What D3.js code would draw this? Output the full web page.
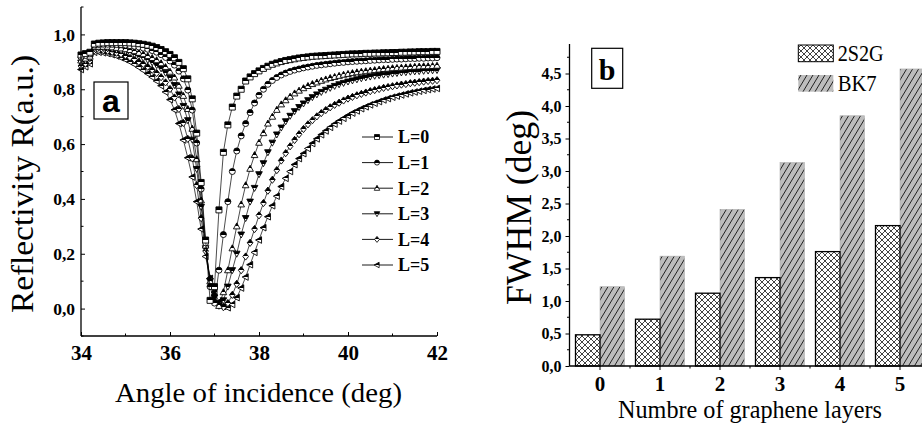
<!DOCTYPE html>
<html><head><meta charset="utf-8">
<script src="https://cdn.jsdelivr.net/npm/d3@7"></script>
<style>body{margin:0;background:#fff}svg{display:block}</style>
</head><body>
<svg id="c" width="922" height="427"></svg>
<script>
// ---------- Panel (a) data ----------
const angles = [34.0,34.1,34.2,34.3,34.4,34.5,34.6,34.7,34.8,34.9,
 35.0,35.1,35.2,35.3,35.4,35.5,35.6,35.7,35.8,35.9,
 36.0,36.1,36.2,36.3,36.4,36.5,36.6,36.7,36.8,36.9,
 37.0,37.1,37.2,37.3,37.4,37.5,37.6,37.7,37.8,37.9,
 38.0,38.1,38.2,38.3,38.4,38.5,38.6,38.7,38.8,38.9,
 39.0,39.1,39.2,39.3,39.4,39.5,39.6,39.7,39.8,39.9,
 40.0,40.1,40.2,40.3,40.4,40.5,40.6,40.7,40.8,40.9,
 41.0,41.1,41.2,41.3,41.4,41.5,41.6,41.7,41.8,41.9,
 42.0];
const L0 = [0.925,0.93,0.935,0.965,0.968,0.969,0.97,0.97,0.97,0.97,
 0.97,0.969,0.968,0.966,0.964,0.961,0.957,0.952,0.945,0.937,
 0.927,0.915,0.898,0.875,0.838,0.765,0.64,0.46,0.25,0.03,
 0.08,0.36,0.57,0.67,0.735,0.775,0.80,0.83,0.845,0.857,
 0.867,0.876,0.884,0.891,0.896,0.901,0.905,0.908,0.911,0.914,
 0.916,0.918,0.92,0.921,0.922,0.923,0.924,0.925,0.926,0.927,
 0.928,0.929,0.929,0.93,0.931,0.931,0.932,0.932,0.933,0.933,
 0.934,0.934,0.935,0.935,0.936,0.936,0.937,0.937,0.937,0.938,
 0.938];
const L1 = [0.917,0.923,0.929,0.961,0.963,0.964,0.964,0.964,0.963,0.962,
 0.961,0.959,0.957,0.954,0.95,0.946,0.941,0.935,0.926,0.916,
 0.903,0.888,0.866,0.838,0.797,0.724,0.604,0.436,0.24,0.08,
 0.02,0.14,0.27,0.39,0.50,0.575,0.63,0.675,0.715,0.75,
 0.778,0.80,0.818,0.832,0.843,0.852,0.859,0.865,0.87,0.874,
 0.878,0.881,0.884,0.887,0.889,0.891,0.893,0.895,0.897,0.898,
 0.90,0.901,0.902,0.903,0.904,0.905,0.906,0.907,0.908,0.908,
 0.909,0.91,0.91,0.911,0.912,0.912,0.913,0.913,0.914,0.914,
 0.915];
const L2 = [0.905,0.912,0.919,0.954,0.955,0.955,0.955,0.953,0.951,0.949,
 0.946,0.943,0.939,0.933,0.928,0.921,0.914,0.906,0.895,0.881,
 0.864,0.843,0.813,0.776,0.728,0.656,0.545,0.395,0.23,0.10,
 0.03,0.01,0.06,0.14,0.22,0.30,0.38,0.45,0.51,0.56,
 0.605,0.64,0.675,0.70,0.725,0.745,0.76,0.773,0.785,0.795,
 0.804,0.812,0.819,0.825,0.831,0.836,0.841,0.845,0.849,0.853,
 0.856,0.859,0.862,0.864,0.866,0.868,0.87,0.872,0.874,0.875,
 0.877,0.878,0.879,0.88,0.881,0.882,0.883,0.884,0.884,0.885,
 0.886];
const L3 = [0.897,0.905,0.913,0.949,0.951,0.95,0.949,0.947,0.944,0.941,
 0.938,0.933,0.928,0.921,0.914,0.907,0.898,0.888,0.876,0.86,
 0.841,0.815,0.781,0.739,0.687,0.616,0.509,0.371,0.22,0.10,
 0.04,0.01,0.03,0.08,0.14,0.20,0.27,0.33,0.39,0.44,
 0.49,0.53,0.57,0.605,0.635,0.66,0.683,0.703,0.72,0.735,
 0.748,0.76,0.771,0.781,0.79,0.798,0.805,0.812,0.818,0.823,
 0.828,0.832,0.836,0.84,0.843,0.846,0.849,0.851,0.853,0.855,
 0.857,0.859,0.861,0.862,0.864,0.865,0.866,0.867,0.868,0.869,
 0.87];
const L4 = [0.885,0.893,0.903,0.942,0.943,0.942,0.94,0.936,0.933,0.928,
 0.923,0.916,0.909,0.90,0.892,0.882,0.871,0.859,0.844,0.825,
 0.801,0.77,0.728,0.677,0.619,0.548,0.45,0.33,0.21,0.11,
 0.05,0.015,0.005,0.02,0.05,0.09,0.14,0.19,0.24,0.29,
 0.34,0.385,0.43,0.47,0.505,0.54,0.567,0.592,0.615,0.636,
 0.655,0.672,0.687,0.701,0.713,0.724,0.734,0.743,0.751,0.759,
 0.766,0.772,0.778,0.783,0.788,0.793,0.797,0.801,0.805,0.808,
 0.811,0.814,0.817,0.819,0.822,0.824,0.826,0.828,0.83,0.831,
 0.833];
const L5 = [0.872,0.882,0.893,0.935,0.935,0.933,0.93,0.926,0.921,0.915,
 0.908,0.90,0.891,0.88,0.869,0.857,0.844,0.83,0.813,0.79,
 0.762,0.725,0.675,0.615,0.55,0.48,0.39,0.29,0.19,0.11,
 0.06,0.025,0.008,0.003,0.015,0.04,0.075,0.115,0.16,0.205,
 0.25,0.295,0.335,0.375,0.41,0.445,0.475,0.50,0.525,0.547,
 0.565,0.584,0.602,0.619,0.634,0.648,0.661,0.673,0.684,0.694,
 0.704,0.713,0.721,0.729,0.736,0.743,0.749,0.755,0.761,0.766,
 0.771,0.775,0.779,0.783,0.787,0.79,0.793,0.796,0.799,0.801,
 0.803];
const seriesNames = ["L=0","L=1","L=2","L=3","L=4","L=5"];
const seriesValues = [L0, L1, L2, L3, L4, L5];
const markerTypes = ["square","circle","triUp","triDown","diamond","triLeft"];
const xTicksA = [34,36,38,40,42];
const xMinorA = [35,37,39,41];
const yTicksA = [0,0.2,0.4,0.6,0.8,1.0];
const yMinorA = [-0.1,0.1,0.3,0.5,0.7,0.9,1.1];

// ---------- Panel (b) data ----------
const layerCats = ["0","1","2","3","4","5"];
const barSeries = ["2S2G","BK7"];
const fwhm2S2G = [0.48,0.72,1.12,1.36,1.76,2.16];
const fwhmBK7 = [1.22,1.69,2.41,3.13,3.85,4.57];
const yTicksB = [0,0.5,1.0,1.5,2.0,2.5,3.0,3.5,4.0,4.5];
const yMinorB = [0.25,0.75,1.25,1.75,2.25,2.75,3.25,3.75,4.25,4.75];

const SERIF = "'Liberation Serif','Times New Roman',serif";
const SANS = "'Liberation Sans',Arial,sans-serif";
const fmt = d3.formatLocale({decimal:",",thousands:".",grouping:[3],currency:["",""]}).format(".1f");

const svg = d3.select("#c");
const defs = svg.append("defs");
const g1 = defs.append("linearGradient").attr("id","half").attr("x1",0).attr("y1",0).attr("x2",0).attr("y2",1);
g1.append("stop").attr("offset","0").attr("stop-color","#000");
g1.append("stop").attr("offset","0.5").attr("stop-color","#000");
g1.append("stop").attr("offset","0.5").attr("stop-color","#fff");
g1.append("stop").attr("offset","1").attr("stop-color","#fff");

const xh = defs.append("pattern").attr("id","xh").attr("patternUnits","userSpaceOnUse").attr("width",6).attr("height",6);
xh.append("rect").attr("width",6).attr("height",6).attr("fill","#fff");
xh.append("path").attr("d","M0,0L6,6M6,0L0,6").attr("stroke","#111").attr("stroke-width",0.8);

const dg = defs.append("pattern").attr("id","dg").attr("patternUnits","userSpaceOnUse").attr("width",6).attr("height",10);
dg.append("rect").attr("width",6).attr("height",10).attr("fill","#bdbdbd");
dg.append("path").attr("d","M0,10L6,0M-3,5L0,0M6,10L9,5").attr("stroke","#111").attr("stroke-width",0.9);

function markerPath(type, s) {
  const p = d3.path();
  const h = s/2;
  if (type === "square") { p.rect(-h,-h,s,s); }
  else if (type === "circle") { p.moveTo(h,0); p.arc(0,0,h,0,2*Math.PI); }
  else if (type === "triUp") { p.moveTo(0,-h*1.15); p.lineTo(h*1.1,h*0.85); p.lineTo(-h*1.1,h*0.85); p.closePath(); }
  else if (type === "triDown") { p.moveTo(-h*1.1,-h*0.85); p.lineTo(h*1.1,-h*0.85); p.lineTo(0,h*1.15); p.closePath(); }
  else if (type === "diamond") { p.moveTo(0,-h*1.2); p.lineTo(h*0.95,0); p.lineTo(0,h*1.2); p.lineTo(-h*0.95,0); p.closePath(); }
  else { p.moveTo(-h*1.15,0); p.lineTo(h*0.85,-h*1.1); p.lineTo(h*0.85,h*1.1); p.closePath(); }
  return p.toString();
}

// ---------- Panel (a) ----------
const xA = d3.scaleLinear().domain([34,42]).range([81,437]);
const yA = d3.scaleLinear().domain([-0.1,1.1]).range([336,7]);
const pa = svg.append("g");

const line = d3.line().x((d,i)=>xA(angles[i])).y(d=>yA(d));
for (let k = seriesValues.length-1; k >= 0; k--) {
  const vals = seriesValues[k];
  pa.append("path").attr("d", line(vals)).attr("fill","none").attr("stroke","#000").attr("stroke-width",0.7);
  pa.append("g").selectAll("path").data(vals).join("path")
    .attr("transform",(d,i)=>`translate(${xA(angles[i])},${yA(d)})`)
    .attr("d", markerPath(markerTypes[k], 6))
    .attr("fill","url(#half)").attr("stroke","#000").attr("stroke-width",0.9);
}

// axes a
pa.append("line").attr("x1",xA(34)).attr("x2",xA(34)).attr("y1",yA(1.1)).attr("y2",yA(-0.1)).attr("stroke","#000").attr("stroke-width",1.3);
pa.append("line").attr("x1",xA(34)).attr("x2",xA(42)).attr("y1",yA(-0.1)).attr("y2",yA(-0.1)).attr("stroke","#000").attr("stroke-width",1.3);
const axXA = d3.axisBottom(xA).tickValues(xTicksA).tickSize(-4).tickPadding(9).tickFormat(d3.format("d"));
const gxa = pa.append("g").attr("transform",`translate(0,${yA(-0.1)})`).call(axXA);
gxa.select(".domain").remove();
gxa.selectAll("text").attr("font-family",SERIF).attr("font-weight","bold").attr("font-size",21).attr("fill","#000");
pa.append("g").selectAll("line").data(xMinorA).join("line")
  .attr("x1",d=>xA(d)).attr("x2",d=>xA(d)).attr("y1",yA(-0.1)).attr("y2",yA(-0.1)-2.5).attr("stroke","#000");
const axYA = d3.axisLeft(yA).tickValues(yTicksA).tickSize(-4).tickPadding(6).tickFormat(fmt);
const gya = pa.append("g").attr("transform",`translate(${xA(34)},0)`).call(axYA);
gya.select(".domain").remove();
gya.selectAll("text").attr("font-family",SERIF).attr("font-weight","bold").attr("font-size",17.5).attr("fill","#000");
pa.append("g").selectAll("line").data(yMinorA).join("line")
  .attr("x1",xA(34)).attr("x2",xA(34)+2.5).attr("y1",d=>yA(d)).attr("y2",d=>yA(d)).attr("stroke","#000");

pa.append("text").attr("transform",`translate(33,184) rotate(-90)`).attr("text-anchor","middle")
  .attr("font-family",SERIF).attr("font-size",31).attr("textLength",258).attr("lengthAdjust","spacingAndGlyphs")
  .text("Reflectivity R(a.u.)");
pa.append("text").attr("x",258.5).attr("y",402).attr("text-anchor","middle")
  .attr("font-family",SERIF).attr("font-size",28).attr("textLength",287).attr("lengthAdjust","spacingAndGlyphs")
  .text("Angle of incidence (deg)");

// label box a
pa.append("rect").attr("x",94).attr("y",82).attr("width",34).attr("height",37).attr("fill","#fff").attr("stroke","#000").attr("stroke-width",1.2);
pa.append("text").attr("x",111).attr("y",112).attr("text-anchor","middle").attr("font-family",SANS).attr("font-weight","bold").attr("font-size",32).text("a");

// legend a
const lg = pa.append("g");
seriesNames.forEach((nm,k)=>{
  const y = 137 + k*25.6;
  lg.append("line").attr("x1",362).attr("x2",393).attr("y1",y).attr("y2",y).attr("stroke","#000").attr("stroke-width",0.9);
  lg.append("path").attr("transform",`translate(377,${y})`).attr("d",markerPath(markerTypes[k],5))
    .attr("fill","url(#half)").attr("stroke","#000").attr("stroke-width",0.8);
  lg.append("text").attr("x",398).attr("y",y).attr("dy","0.35em").attr("font-family",SERIF).attr("font-weight","bold").attr("font-size",18).text(nm);
});

// ---------- Panel (b) ----------
const xB = d3.scaleBand().domain(layerCats).range([570,930]);
const xB1 = d3.scaleBand().domain(barSeries).range([5.5,54.5]);
const yB = d3.scaleLinear().domain([0,4.95]).range([366,44.25]);
const pb = svg.append("g");

pb.append("g").selectAll("rect").data(fwhmBK7).join("rect")
  .attr("x",(d,i)=>xB(layerCats[i])+xB1("BK7")).attr("width",xB1.bandwidth())
  .attr("y",d=>yB(d)).attr("height",d=>yB(0)-yB(d))
  .attr("fill","url(#dg)").attr("stroke","#b0b0b0").attr("stroke-width",0.6);
pb.append("g").selectAll("rect").data(fwhm2S2G).join("rect")
  .attr("x",(d,i)=>xB(layerCats[i])+xB1("2S2G")).attr("width",xB1.bandwidth())
  .attr("y",d=>yB(d)).attr("height",d=>yB(0)-yB(d))
  .attr("fill","url(#xh)").attr("stroke","#000").attr("stroke-width",1.3);

// axes b
pb.append("line").attr("x1",569.5).attr("x2",569.5).attr("y1",44).attr("y2",yB(0)).attr("stroke","#000").attr("stroke-width",1.3);
pb.append("line").attr("x1",569.5).attr("x2",930).attr("y1",yB(0)).attr("y2",yB(0)).attr("stroke","#000").attr("stroke-width",1.3);
const axYB = d3.axisLeft(yB).tickValues(yTicksB).tickSize(4).tickPadding(4).tickFormat(fmt);
const gyb = pb.append("g").attr("transform","translate(569.5,0)").call(axYB);
gyb.select(".domain").remove();
gyb.selectAll("text").attr("font-family",SERIF).attr("font-weight","bold").attr("font-size",16).attr("fill","#000");
pb.append("g").selectAll("line").data(yMinorB).join("line")
  .attr("x1",569.5).attr("x2",567).attr("y1",d=>yB(d)).attr("y2",d=>yB(d)).attr("stroke","#000");
const axXB = d3.axisBottom(xB).tickSize(4).tickPadding(6);
const gxb = pb.append("g").attr("transform",`translate(0,${yB(0)})`).call(axXB);
gxb.select(".domain").remove();
gxb.selectAll("text").attr("font-family",SERIF).attr("font-weight","bold").attr("font-size",21).attr("fill","#000");
pb.append("g").selectAll("line").data(layerCats.slice(1)).join("line")
  .attr("x1",d=>xB(d)).attr("x2",d=>xB(d)).attr("y1",yB(0)).attr("y2",yB(0)+2.5).attr("stroke","#000");

pb.append("text").attr("transform",`translate(531,207.5) rotate(-90)`).attr("text-anchor","middle")
  .attr("font-family",SERIF).attr("font-size",36).attr("textLength",195).attr("lengthAdjust","spacingAndGlyphs")
  .text("FWHM (deg)");
pb.append("text").attr("x",750).attr("y",418).attr("text-anchor","middle")
  .attr("font-family",SERIF).attr("font-size",25).attr("textLength",264).attr("lengthAdjust","spacingAndGlyphs")
  .text("Numbre of graphene layers");

pb.append("rect").attr("x",591.7).attr("y",48.3).attr("width",31).attr("height",40).attr("fill","#fff").attr("stroke","#000").attr("stroke-width",1.2);
pb.append("text").attr("x",607).attr("y",80).attr("text-anchor","middle").attr("font-family",SERIF).attr("font-weight","bold").attr("font-size",30).text("b");

// legend b
pb.append("rect").attr("x",798.3).attr("y",45).attr("width",35).attr("height",16.7).attr("fill","url(#xh)").attr("stroke","#000").attr("stroke-width",1);
pb.append("text").attr("x",837.7).attr("y",61).attr("font-family",SERIF).attr("font-size",23).attr("textLength",46).attr("lengthAdjust","spacingAndGlyphs").text(barSeries[0]);
pb.append("rect").attr("x",798.3).attr("y",75).attr("width",35).attr("height",16.7).attr("fill","url(#dg)");
pb.append("text").attr("x",837.7).attr("y",90.7).attr("font-family",SERIF).attr("font-size",23).attr("textLength",39).attr("lengthAdjust","spacingAndGlyphs").text(barSeries[1]);
</script>
</body></html>
